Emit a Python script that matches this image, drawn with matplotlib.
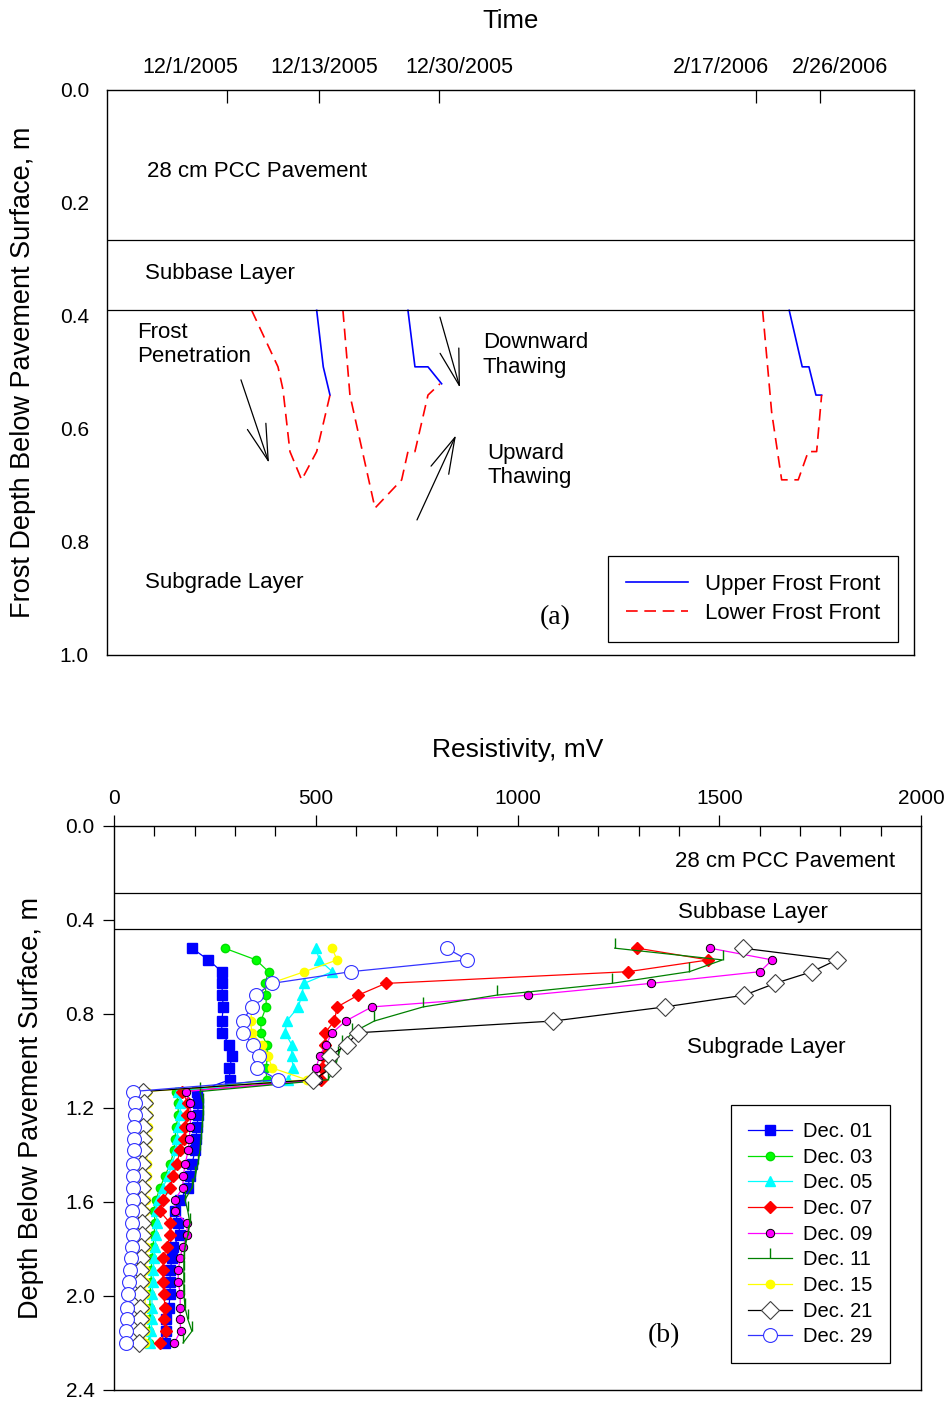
import numpy as np
import matplotlib
matplotlib.use("Agg")
from matplotlib import pyplot as plt

plt.rcParams['font.family'] = ['Liberation Sans', 'DejaVu Sans']

### ~~~~~~~ (a) frost fronts ~~~~~~~ ###
# time axis in days (arbitrary origin); tick marks at measurement dates,
# labels sit a little off their ticks as in the original figure
time_ticks = [17.1, 30.3, 47.4, 92.7, 101.9]
time_label_pos = [11.9, 31.0, 50.4, 87.7, 104.7]
time_labels = ['12/1/2005', '12/13/2005', '12/30/2005', '2/17/2006', '2/26/2006']

# upper frost front, three events
up1_t = [29.96, 30.9, 31.86]
up1_d = [0.39, 0.49, 0.54]
up2_t = [43.0, 44.0, 45.86, 47.81]
up2_d = [0.39, 0.49, 0.49, 0.52]
up3_t = [97.47, 99.33, 100.29, 101.29, 102.1]
up3_d = [0.39, 0.49, 0.49, 0.54, 0.54]

# lower frost front, three events
lo1_t = [20.67, 24.43, 25.14, 26.14, 27.81, 29.96, 31.86]
lo1_d = [0.39, 0.49, 0.53, 0.64, 0.69, 0.64, 0.54]
lo2_t = [33.71, 34.71, 38.29, 42.1, 43.0, 44.0, 45.86, 47.57]
lo2_d = [0.39, 0.54, 0.74, 0.69, 0.64, 0.64, 0.54, 0.52]
lo3_t = [93.67, 94.96, 96.39, 98.76, 100.19, 101.39, 102.1]
lo3_d = [0.39, 0.57, 0.69, 0.69, 0.64, 0.64, 0.54]

### ~~~~~~~ (b) resistivity profiles ~~~~~~~ ###
depth = [0.52, 0.57, 0.62, 0.67, 0.72, 0.77, 0.83, 0.88, 0.93, 0.98, 1.03, 1.08,
         1.13, 1.18, 1.23, 1.28, 1.33, 1.38, 1.44, 1.49, 1.54, 1.59, 1.64, 1.69,
         1.74, 1.79, 1.84, 1.89, 1.94, 1.99, 2.05, 2.10, 2.15, 2.20]

dec01 = [193, 234, 267, 268, 268, 271, 267, 267, 286, 293, 286, 287,
         206, 208, 208, 206, 203, 201, 193, 188, 183, 164, 151, 159, 164, 146,
         144, 139, 139, 139, 136, 129, 129, 126]
dec03 = [274, 352, 383, 374, 377, 377, 364, 364, 379, 380, 377, 378,
         154, 159, 159, 154, 151, 149, 139, 126, 114, 104, 99, 102, 99, 97,
         94, 92, 92, 89, 89, 89, 87, 87]
dec05 = [500, 509, 541, 471, 465, 457, 428, 424, 440, 440, 444, 432,
         159, 164, 164, 159, 156, 154, 144, 134, 121, 109, 104, 107, 104, 102,
         99, 97, 97, 94, 94, 94, 92, 89]
dec07 = [1297, 1473, 1274, 673, 605, 553, 546, 523, 523, 518, 515, 513,
         168, 184, 181, 176, 174, 164, 155, 147, 139, 122, 114, 139, 139, 131,
         122, 122, 121, 124, 126, 124, 129, 114]
dec09 = [1477, 1631, 1601, 1330, 1027, 639, 574, 541, 525, 510, 500, 506,
         178, 188, 191, 188, 187, 184, 176, 172, 170, 151, 151, 180, 182, 170,
         164, 159, 159, 164, 164, 164, 165, 149]
dec11 = [1241, 1508, 1426, 1233, 948, 766, 645, 590, 565, 555, 548, 530,
         213, 221, 221, 218, 216, 213, 208, 201, 193, 176, 183, 188, 183, 176,
         173, 173, 173, 173, 176, 183, 193, 171]
dec15 = [540, 553, 472, 387, 357, 342, 339, 341, 367, 382, 392, 478,
         82, 84, 84, 84, 82, 82, 81, 81, 79, 79, 78, 78, 79, 79,
         78, 78, 77, 77, 77, 77, 76, 76]
dec21 = [1558, 1791, 1730, 1638, 1562, 1365, 1089, 604, 577, 535, 539, 494,
         72, 74, 74, 72, 72, 72, 69, 69, 69, 67, 67, 69, 69, 67,
         67, 64, 64, 64, 64, 64, 64, 62]
dec29 = [824, 876, 587, 391, 351, 341, 319, 320, 344, 360, 354, 407,
         47, 52, 52, 50, 50, 50, 47, 47, 47, 47, 45, 45, 47, 45,
         42, 40, 37, 35, 32, 32, 30, 30]

series = [
    ('Dec. 01', dec01, dict(color='#0000ff', marker='s', ms=6.5, mfc='#0000ff', mec='#0000ff')),
    ('Dec. 03', dec03, dict(color='#00e000', marker='o', ms=6, mfc='#00ff00', mec='#00e000')),
    ('Dec. 05', dec05, dict(color='#00ffff', marker='^', ms=7.5, mfc='#00ffff', mec='#00ffff')),
    ('Dec. 07', dec07, dict(color='#ff0000', marker='D', ms=6.5, mfc='#ff0000', mec='#ff0000')),
    ('Dec. 09', dec09, dict(color='#ff00ff', marker='o', ms=6, mfc='#ff00ff', mec='#000000', mew=0.7)),
    ('Dec. 11', dec11, dict(color='#008000', marker=2, ms=7, mec='#008000', mew=1.0)),
    ('Dec. 15', dec15, dict(color='#ffff00', marker='o', ms=6, mfc='#ffff00', mec='#ffff00')),
    ('Dec. 21', dec21, dict(color='#000000', marker='D', ms=9.5, mfc='white', mec='#404040', mew=0.8)),
    ('Dec. 29', dec29, dict(color='#3333ff', marker='o', ms=10, mfc='white', mec='#3333ff', mew=0.8)),
]

fig = plt.figure(figsize=(9.51, 14.04), dpi=100)

### ~~~~~~~ top panel ~~~~~~~ ###
ax1 = fig.add_axes([0.1125, 0.5335, 0.8486, 0.4024])
for t, d in [(up1_t, up1_d), (up2_t, up2_d), (up3_t, up3_d)]:
    ax1.plot(t, d, color='#0000ff', lw=1.2)
for t, d in [(lo1_t, lo1_d), (lo2_t, lo2_d), (lo3_t, lo3_d)]:
    ax1.plot(t, d, color='#ff0000', lw=1.2, dashes=(7, 4))

ax1.axhline(0.265, color='k', lw=0.9)
ax1.axhline(0.39, color='k', lw=0.9)

ax1.set_xlim(0, 115.3)
ax1.set_ylim(1.0, 0.0)
ax1.xaxis.tick_top()
ax1.xaxis.set_label_position('top')
ax1.set_xticks(time_ticks)
ax1.set_xticklabels([])
ax1.tick_params(axis='x', direction='in', length=9, width=0.9)
for xp, lab in zip(time_label_pos, time_labels):
    ax1.text(xp, 1.022, lab, transform=ax1.get_xaxis_transform(), ha='center',
             va='bottom', fontsize=15.5)
ax1.set_yticks(np.arange(0, 1.01, 0.2))
ax1.set_yticklabels(['%.1f' % v for v in np.arange(0, 1.01, 0.2)])
ax1.tick_params(axis='y', length=0, pad=13, labelsize=15)
ax1.set_xlabel('Time', fontsize=18.5, labelpad=41)
ax1.set_ylabel('Frost Depth Below Pavement Surface, m', fontsize=19.5, labelpad=17)
for s in ax1.spines.values():
    s.set_linewidth(1.0)

ax1.text(5.7, 0.145, '28 cm PCC Pavement', fontsize=16, va='center')
ax1.text(5.4, 0.325, 'Subbase Layer', fontsize=16, va='center')
ax1.text(4.3, 0.450, 'Frost\nPenetration', fontsize=16, va='center', linespacing=1.2)
ax1.text(53.7, 0.469, 'Downward\nThawing', fontsize=16, va='center', linespacing=1.2)
ax1.text(54.4, 0.665, 'Upward\nThawing', fontsize=16, va='center', linespacing=1.2)
ax1.text(5.4, 0.871, 'Subgrade Layer', fontsize=16, va='center')
ax1.text(64.1, 0.933, '(a)', fontsize=20, va='center', ha='center', family='Liberation Serif')

arrow_style = dict(arrowstyle='->,head_length=2.6,head_width=0.7', lw=0.9, color='k',
                   shrinkA=0, shrinkB=0)
ax1.annotate('', xy=(23.14, 0.660), xytext=(19.14, 0.513), arrowprops=arrow_style)
ax1.annotate('', xy=(50.43, 0.527), xytext=(47.57, 0.402), arrowprops=arrow_style)
ax1.annotate('', xy=(49.86, 0.611), xytext=(44.29, 0.761), arrowprops=arrow_style)

h1, = ax1.plot([], [], color='#0000ff', lw=1.2)
h2, = ax1.plot([], [], color='#ff0000', lw=1.2, dashes=(7, 4))
leg1 = ax1.legend([h1, h2], ['Upper Frost Front', 'Lower Frost Front'],
                  loc='upper right', bbox_to_anchor=(0.980, 0.175), borderaxespad=0,
                  fontsize=16, handlelength=2.8, labelspacing=0.36, fancybox=False,
                  framealpha=1, edgecolor='k', borderpad=0.8, handletextpad=0.75)
leg1.get_frame().set_linewidth(0.9)

### ~~~~~~~ bottom panel ~~~~~~~ ###
ax2 = fig.add_axes([0.1199, 0.0100, 0.8486, 0.4017])
handles = []
for label, vals, style in series:
    ln, = ax2.plot(vals, depth, lw=0.9, label=label, **style)
    handles.append(ln)

ax2.axhline(0.285, color='k', lw=0.9)
ax2.axhline(0.438, color='k', lw=0.9)

ax2.set_xlim(0, 2000)
ax2.set_ylim(2.4, 0.0)
ax2.xaxis.tick_top()
ax2.xaxis.set_label_position('top')
ax2.set_xticks(np.arange(0, 2001, 500))
ax2.set_xticks(np.arange(0, 2001, 100), minor=True)
ax2.tick_params(axis='x', which='major', direction='out', length=8, width=0.9, pad=5, labelsize=15)
ax2.tick_params(axis='x', which='minor', direction='in', length=7, width=0.9)
ax2.set_yticks(np.arange(0, 2.41, 0.4))
ax2.set_yticklabels(['%.1f' % v for v in np.arange(0, 2.41, 0.4)])
ax2.tick_params(axis='y', direction='out', length=8, width=0.9, pad=6, labelsize=15)
ax2.set_xlabel('Resistivity, mV', fontsize=19, labelpad=23)
ax2.set_ylabel('Depth Below Pavement Surface, m', fontsize=19.5, labelpad=15)
for s in ax2.spines.values():
    s.set_linewidth(1.0)

ax2.text(1390, 0.152, '28 cm PCC Pavement', fontsize=16, va='center')
ax2.text(1398, 0.368, 'Subbase Layer', fontsize=16, va='center')
ax2.text(1420, 0.942, 'Subgrade Layer', fontsize=16, va='center')
ax2.text(1363, 2.17, '(b)', fontsize=20, va='center', ha='center', family='Liberation Serif')

leg2 = ax2.legend(handles=handles, loc='upper right', bbox_to_anchor=(0.9616, 0.5053),
                  borderaxespad=0, fontsize=14.5, handlelength=2.2, labelspacing=0.33,
                  fancybox=False, framealpha=1, edgecolor='k', borderpad=0.85,
                  handletextpad=0.55)
leg2.get_frame().set_linewidth(0.9)

fig.savefig('out.png', dpi=100)
